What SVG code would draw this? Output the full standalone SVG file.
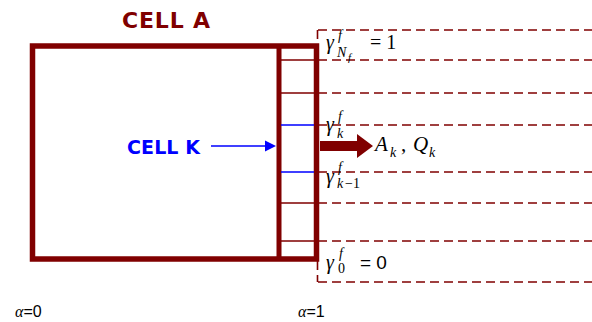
<svg xmlns="http://www.w3.org/2000/svg" width="592" height="322" viewBox="0 0 592 322">
<style>
.dr{stroke:#800000;fill:none}
.dash{stroke:#800000;stroke-width:1.6;stroke-dasharray:9 5;fill:none}
.thin{stroke:#800000;stroke-width:1.5}
.bl{stroke:#0000ff;stroke-width:1.5}
.m{font-family:"Liberation Serif",serif;font-style:italic;fill:#000}
.n{font-family:"Liberation Serif",serif;font-style:normal;fill:#000}
.s{font-family:"Liberation Sans",sans-serif;font-style:normal;fill:#000}
.lab{font-family:"DejaVu Sans",sans-serif;font-weight:bold}
.ax{font-family:"Liberation Sans",sans-serif;font-size:16px;fill:#000}
</style>
<rect width="592" height="322" fill="#fff"/>
<g id="levels">
<path class="dash" d="M318 30H592M318 60H592M318 93H592M318 125H592M318 172H592M318 203H592M318 241H592M318 282H592M317.5 30V44M317.5 261V282"/>
</g>
<g id="cellA">
<rect class="dr" x="32.5" y="46" width="284" height="213" stroke-width="5.5"/>
<line class="dr" x1="279" y1="46" x2="279" y2="259" stroke-width="5"/>
<path class="thin" d="M281 60H314M281 93H314M281 203H314M281 241H314"/>
<path class="bl" d="M281 125H314M281 172H314"/>
<text class="lab" x="122" y="28" font-size="22" fill="#800000" textLength="88">CELL A</text>
</g>
<g id="cellK">
<text class="lab" x="127" y="154" font-size="19" fill="#0000ff" textLength="73">CELL K</text>
</g>
<g id="connectors">
<line x1="211" y1="146" x2="266" y2="146" stroke="#0000ff" stroke-width="1.5"/>
<polygon points="265,140.5 276,146 265,151.5" fill="#0000ff"/>
<polygon points="320,141 357,141 357,134 373,146 357,158 357,151 320,151" fill="#800000"/>
</g>
<g id="labels">
<text class="m" x="326" y="49" font-size="20">γ</text>
<text class="m" x="338" y="40" font-size="14">f</text>
<text class="m" x="337" y="57" font-size="14">N</text>
<text class="m" x="348" y="61" font-size="11">f</text>
<text class="n" x="370" y="49" font-size="20">= 1</text>
<text class="m" x="326" y="131" font-size="20">γ</text>
<text class="m" x="338" y="121" font-size="14">f</text>
<text class="m" x="337" y="138" font-size="14">k</text>
<text class="m" x="375" y="151" font-size="21">A</text>
<text class="m" x="390" y="157" font-size="14">k</text>
<text class="n" x="401" y="151" font-size="21">,</text>
<text class="m" x="413" y="151" font-size="21">Q</text>
<text class="m" x="429" y="157" font-size="14">k</text>
<text class="m" x="326" y="183" font-size="20">γ</text>
<text class="m" x="338" y="172" font-size="14">f</text>
<text class="m" x="337" y="188" font-size="14">k</text>
<text class="n" x="345" y="188" font-size="14">−1</text>
<text class="m" x="326" y="269" font-size="20">γ</text>
<text class="m" x="339" y="258" font-size="14">f</text>
<text class="n" x="338" y="273" font-size="14">0</text>
<text class="s" x="360" y="269" font-size="19">= 0</text>
<text class="ax" x="15" y="317"><tspan font-family="Liberation Serif,serif" font-style="italic">α</tspan>=0</text>
<text class="ax" x="298" y="317"><tspan font-family="Liberation Serif,serif" font-style="italic">α</tspan>=1</text>
</g>
</svg>
